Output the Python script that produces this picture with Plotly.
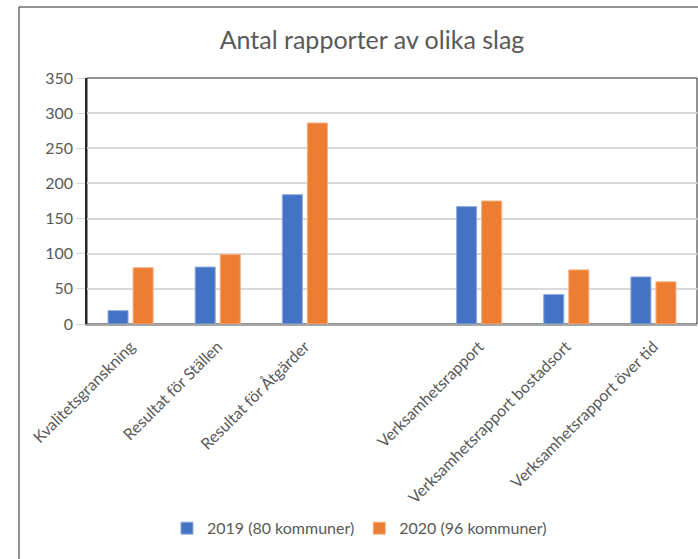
import plotly.graph_objects as go

# data
categories = [
    "Kvalitetsgranskning",
    "Resultat för Ställen",
    "Resultat för Åtgärder",
    " ",
    "Verksamhetsrapport",
    "Verksamhetsrapport bostadsort",
    "Verksamhetsrapport över tid",
]
series_names = ["2019 (80 kommuner)", "2020 (96 kommuner)"]
values_2019 = [19, 81, 184, None, 167, 42, 67]
values_2020 = [80, 99, 286, None, 175, 77, 60]
y_ticks = [0, 50, 100, 150, 200, 250, 300, 350]

FONT = "Lato, Carlito, Calibri, sans-serif"
GREY = "#595959"

fig = go.Figure()
fig.add_trace(go.Bar(x=categories, y=values_2019, name=series_names[0],
                     marker=dict(color="#4472C4", line=dict(color="#8faadc", width=1))))
fig.add_trace(go.Bar(x=categories, y=values_2020, name=series_names[1],
                     marker=dict(color="#ED7D31", line=dict(color="#f4b183", width=1))))

fig.update_layout(
    width=698, height=559,
    margin=dict(l=87, r=1, t=78, b=235, autoexpand=False),
    paper_bgcolor="white", plot_bgcolor="white",
    font=dict(family=FONT, color=GREY, size=16),
    title=dict(text="Antal rapporter av olika slag", x=0.533, y=0.928,
               xanchor="center", yanchor="middle",
               font=dict(family=FONT, size=25, color=GREY)),
    barmode="group", bargap=0.425, bargroupgap=0.2,
    legend=dict(orientation="h", xref="container", yref="container",
                x=0.515, y=0.055, xanchor="center", yanchor="middle",
                font=dict(size=16, color=GREY), itemwidth=30,
                traceorder="normal"),
    shapes=[
        # outer chart frame
        dict(type="rect", xref="paper", yref="paper", x0=-0.1115, x1=1.2,
             y0=-1.5, y1=1.2886, line=dict(color="#262626", width=1), layer="below"),
        # plot area frame
        dict(type="rect", xref="paper", yref="paper", x0=0, x1=1, y0=0, y1=1,
             line=dict(color="#262626", width=1), layer="below"),
    ],
)
fig.update_xaxes(
    tickangle=-45, showgrid=False, showline=True, linecolor="#a6a6a6", linewidth=2,
    ticks="", tickfont=dict(size=16, color=GREY), automargin=False,
    ticklabelstandoff=5,
)
fig.update_yaxes(
    range=[0, 350], tickvals=y_ticks, showgrid=True, gridcolor="#d9d9d9", gridwidth=1.5,
    ticks="outside", ticklen=9, tickcolor="#d9d9d9", zeroline=False,
    showline=True, linecolor="#262626", linewidth=1.5,
    tickfont=dict(size=16, color=GREY), automargin=False,
)

# drop the default page margin so the figure sits at the window's corner
fig.write_html("out.html", config={"displayModeBar": False},
               post_script="document.body.style.margin='0';")
